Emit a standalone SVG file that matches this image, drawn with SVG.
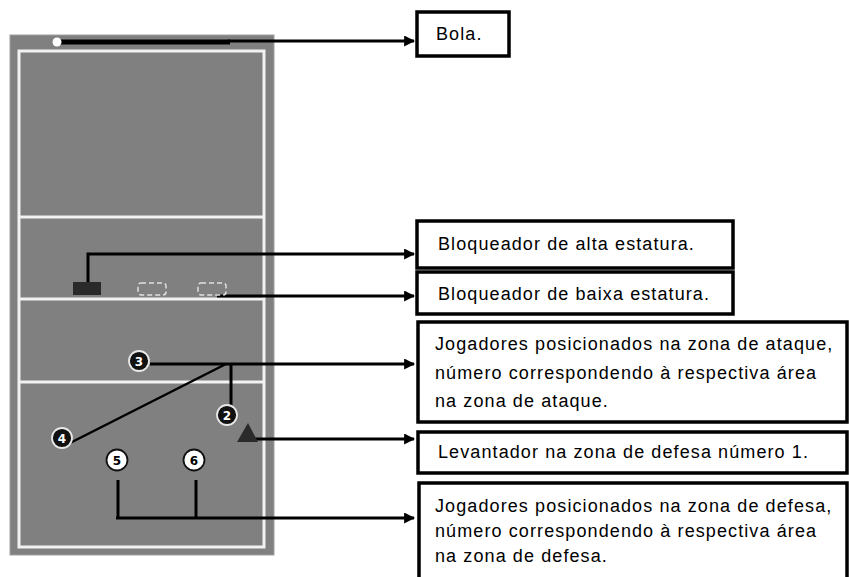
<svg xmlns="http://www.w3.org/2000/svg" width="849" height="577" viewBox="0 0 849 577">
<style>
.box{fill:#fff;stroke:#000;stroke-width:3.5}
.lbl{font-family:"Liberation Sans",Arial,sans-serif;font-size:18px;letter-spacing:1.1px;fill:#000}
.ln{stroke:#000;stroke-width:3;fill:none}
.cl{stroke:#f2f2f2;stroke-width:3;fill:none}
.pd{fill:#111;stroke:#e8e8e8;stroke-width:1.8}
.pw{fill:#fff;stroke:#111;stroke-width:1.8}
.nd{font-family:"DejaVu Sans",sans-serif;font-size:12px;font-weight:bold;text-anchor:middle}
</style>
<defs>
<marker id="ah" viewBox="0 0 10 10" refX="9" refY="5" markerWidth="11" markerHeight="11" markerUnits="userSpaceOnUse" orient="auto">
<path d="M0,0 L10,5 L0,10 Z" fill="#000"/>
</marker>
</defs>
<g id="court">
<rect x="10" y="35" width="264" height="520" fill="#808080" stroke="#a0a0a0" stroke-width="1"/>
<rect x="19" y="51" width="245" height="496" class="cl"/>
<line x1="19" y1="217" x2="264" y2="217" class="cl"/>
<line x1="19" y1="299" x2="264" y2="299" class="cl"/>
<line x1="19" y1="382" x2="264" y2="382" class="cl"/>
</g>
<g id="connectors">
<line x1="60" y1="42" x2="230" y2="42" stroke="#000" stroke-width="5"/>
<line x1="228" y1="41" x2="414" y2="41" class="ln" marker-end="url(#ah)"/>
<polyline points="88,292 88,254 414,254" class="ln" marker-end="url(#ah)"/>
<line x1="217" y1="296" x2="414" y2="296" class="ln" marker-end="url(#ah)"/>
<line x1="150" y1="364" x2="414" y2="364" class="ln" marker-end="url(#ah)"/>
<line x1="231" y1="364" x2="231" y2="406" class="ln"/>
<line x1="226" y1="364" x2="70" y2="443" stroke="#000" stroke-width="2.5"/>
<line x1="250" y1="439" x2="414" y2="439" class="ln" marker-end="url(#ah)"/>
<line x1="118" y1="480" x2="118" y2="518" class="ln"/>
<line x1="196" y1="480" x2="196" y2="518" class="ln"/>
<line x1="116" y1="518" x2="414" y2="518" class="ln" marker-end="url(#ah)"/>
</g>
<g id="ball"><circle cx="57" cy="42" r="4.5" fill="#fff"/></g>
<g id="blocker-high"><rect x="73" y="282" width="28" height="13" fill="#2a2a2a"/></g>
<g id="blocker-low-1"><rect x="138" y="283" width="28" height="12" rx="3" fill="none" stroke="#e0e0e0" stroke-width="1.5" stroke-dasharray="5,3"/></g>
<g id="blocker-low-2"><rect x="198" y="283" width="28" height="12" rx="3" fill="none" stroke="#e0e0e0" stroke-width="1.5" stroke-dasharray="5,3"/></g>
<g id="player-3"><circle cx="139" cy="361" r="10" class="pd"/><text x="139" y="365.5" class="nd" fill="#fff">3</text></g>
<g id="player-2"><circle cx="227" cy="415" r="10" class="pd"/><text x="227" y="419.5" class="nd" fill="#fff">2</text></g>
<g id="player-4"><circle cx="62" cy="438" r="10" class="pd"/><text x="62" y="442.5" class="nd" fill="#fff">4</text></g>
<g id="player-5"><circle cx="117" cy="460" r="10.5" class="pw"/><text x="117" y="464.5" class="nd" fill="#000">5</text></g>
<g id="player-6"><circle cx="194" cy="460" r="10.5" class="pw"/><text x="194" y="464.5" class="nd" fill="#000">6</text></g>
<g id="setter"><polygon points="248,423 258,442 237,442" fill="#2a2a2a"/></g>
<g id="label-bola"><rect x="417" y="12" width="92" height="44" class="box"/><text x="436" y="40" class="lbl">Bola.</text></g>
<g id="label-alta"><rect x="417" y="221" width="316" height="47" class="box"/><text x="438" y="250" class="lbl">Bloqueador de alta estatura.</text></g>
<g id="label-baixa"><rect x="417" y="272" width="316" height="42" class="box"/><text x="438" y="300" class="lbl">Bloqueador de baixa estatura.</text></g>
<g id="label-ataque"><rect x="418" y="322" width="429" height="100" class="box"/>
<text class="lbl"><tspan x="435" y="350">Jogadores posicionados na zona de ataque,</tspan><tspan x="435" y="379">número correspondendo à respectiva área</tspan><tspan x="435" y="407">na zona de ataque.</tspan></text></g>
<g id="label-levantador"><rect x="418" y="432" width="429" height="41" class="box"/><text x="438" y="458" class="lbl">Levantador na zona de defesa número 1.</text></g>
<g id="label-defesa"><rect x="419" y="483" width="428" height="110" class="box"/>
<text class="lbl"><tspan x="435" y="512">Jogadores posicionados na zona de defesa,</tspan><tspan x="435" y="537">número correspondendo à respectiva área</tspan><tspan x="435" y="562">na zona de defesa.</tspan></text></g>
</svg>
